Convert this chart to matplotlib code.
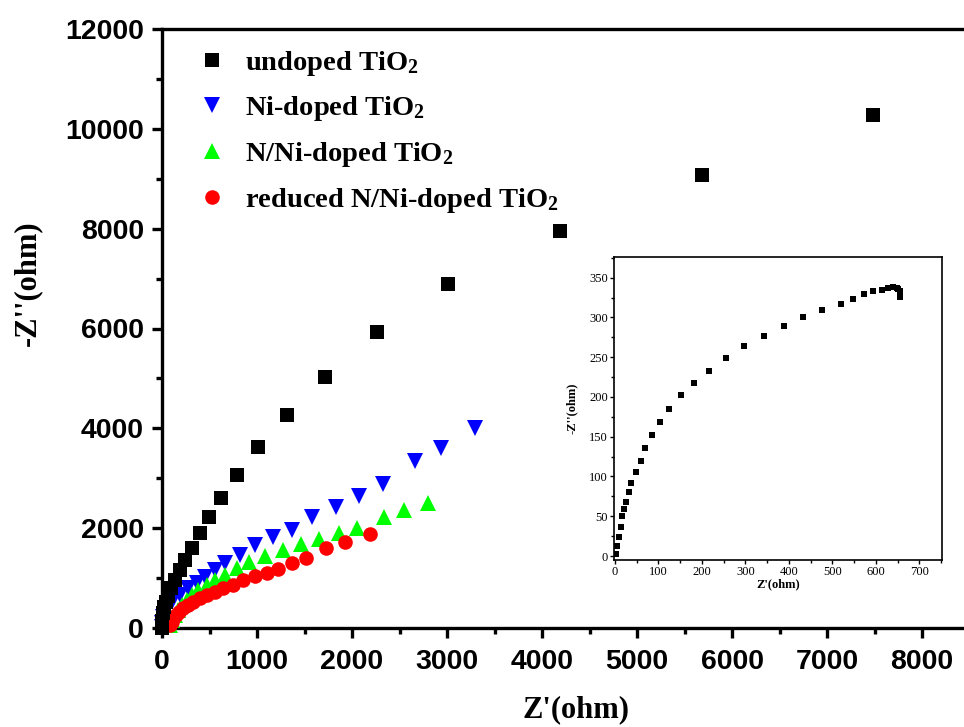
import matplotlib
matplotlib.use("Agg")
import matplotlib.pyplot as plt
from matplotlib.ticker import MultipleLocator

# ---- data ----
undoped_x = [0, 5, 12, 25, 40, 60, 95, 137, 190, 242, 315, 400, 495, 620, 790, 1010, 1316, 1716, 2263, 3010, 4190, 5684, 7484]
undoped_y = [0, 150, 300, 420, 520, 650, 800, 960, 1160, 1360, 1600, 1900, 2220, 2600, 3060, 3620, 4260, 5020, 5920, 6900, 7960, 9080, 10280]

ni_x = [0, 5, 10, 32, 63, 116, 189, 274, 368, 453, 558, 663, 821, 979, 1168, 1368, 1579, 1832, 2074, 2326, 2663, 2937, 3295]
ni_y = [20, 100, 220, 360, 460, 560, 660, 800, 900, 1020, 1160, 1300, 1460, 1660, 1820, 1960, 2220, 2420, 2640, 2880, 3340, 3600, 4000]

nni_x = [84, 105, 137, 168, 211, 263, 316, 379, 474, 558, 663, 789, 916, 1084, 1274, 1463, 1653, 1863, 2053, 2337, 2547, 2800]
nni_y = [60, 160, 260, 360, 460, 560, 660, 760, 860, 960, 1060, 1200, 1320, 1440, 1560, 1680, 1780, 1900, 2000, 2220, 2360, 2500]

red_x = [84, 105, 116, 147, 179, 221, 274, 326, 400, 474, 558, 642, 747, 853, 979, 1105, 1221, 1368, 1516, 1726, 1926, 2190]
red_y = [60, 120, 200, 260, 320, 400, 460, 520, 600, 660, 720, 800, 860, 960, 1040, 1100, 1180, 1300, 1400, 1600, 1720, 1880]

inset_x = [3, 5, 9, 13, 17, 21, 26, 32, 38, 49, 59, 70, 86, 103, 125, 152, 181, 217, 255, 296, 342, 388, 433, 477, 519, 548, 573, 594, 613, 628, 640, 648, 652, 655, 656, 656]
inset_y = [3, 12, 24, 37, 50, 59, 68, 80, 92, 106, 120, 136, 152, 168, 185, 202, 217, 233, 249, 264, 277, 289, 300, 309, 317, 323, 329, 333, 335, 337, 338, 337, 336, 333, 330, 326]

labels = ["undoped TiO$_\\mathregular{2}$", "Ni-doped TiO$_\\mathregular{2}$",
          "N/Ni-doped TiO$_\\mathregular{2}$", "reduced N/Ni-doped TiO$_\\mathregular{2}$"]

plt.rcParams['mathtext.default'] = 'regular'
plt.rcParams['mathtext.fontset'] = 'custom'
plt.rcParams['mathtext.rm'] = 'Liberation Serif:bold'

fig = plt.figure(figsize=(9.64, 7.27), dpi=100)
ax = fig.add_axes([162/964, 99/727, 807.5/964, 599/727])

ax.plot(undoped_x, undoped_y, 's', color='black', ms=10, mew=0, label=labels[0], clip_on=False, zorder=4)
ax.plot(ni_x, ni_y, 'v', color='#0000ff', ms=12, mew=0, label=labels[1], clip_on=False, zorder=3)
ax.plot(nni_x, nni_y, '^', color='#00ff00', ms=12, mew=0, label=labels[2], clip_on=False, zorder=3)
ax.plot(red_x, red_y, 'o', color='#ff0000', ms=10.5, mew=0, label=labels[3], clip_on=False, zorder=3)

ax.set_xlim(0, 8500)
ax.set_ylim(0, 12000)
ax.xaxis.set_major_locator(MultipleLocator(1000))
ax.xaxis.set_minor_locator(MultipleLocator(500))
ax.yaxis.set_major_locator(MultipleLocator(2000))
ax.yaxis.set_minor_locator(MultipleLocator(1000))
for s in ax.spines.values():
    s.set_linewidth(2.4)
ax.tick_params(which='major', direction='out', length=7, width=2.4, pad=6)
ax.tick_params(axis='x', which='major', pad=8)
ax.tick_params(which='minor', direction='out', length=4, width=2.4)
for lab in ax.get_xticklabels() + ax.get_yticklabels():
    lab.set_family('Liberation Sans')
    lab.set_fontweight('bold')
    lab.set_fontsize(20.5)

ax.set_xlabel("Z'(ohm)", family='Liberation Serif', fontweight='bold', fontsize=22)
ax.set_ylabel("-Z''(ohm)", family='Liberation Serif', fontweight='bold', fontsize=22)
ax.xaxis.set_label_coords(0.513, -0.112)
ax.yaxis.set_label_coords(-0.1486, 0.576)

leg = ax.legend(loc='upper left', bbox_to_anchor=(0.0443, 0.967), frameon=False,
                prop={'family': 'Liberation Serif', 'weight': 'bold', 'size': 20.5},
                handletextpad=0.66, labelspacing=0.585, markerscale=1.0, handlelength=1.0,
                borderpad=0, borderaxespad=0)

# ---- inset ----
ins = fig.add_axes([614/964, 167/727, 328/964, 303/727])
ins.plot(inset_x, inset_y, 's', color='black', ms=4.2, mew=0)
ins.set_xlim(-2, 752)
ins.set_ylim(-5, 376)
ins.xaxis.set_major_locator(MultipleLocator(100))
ins.xaxis.set_minor_locator(MultipleLocator(50))
ins.yaxis.set_major_locator(MultipleLocator(50))
ins.yaxis.set_minor_locator(MultipleLocator(25))
for s in ins.spines.values():
    s.set_linewidth(1.2)
ins.tick_params(which='major', direction='out', length=3, width=1, pad=1.5)
ins.tick_params(which='minor', direction='out', length=2, width=1)
for lab in ins.get_xticklabels() + ins.get_yticklabels():
    lab.set_family('Liberation Serif')
    lab.set_fontsize(9)
ins.set_xlabel("Z'(ohm)", family='Liberation Serif', fontweight='bold', fontsize=9, labelpad=0)
ins.set_ylabel("-Z''(ohm)", family='Liberation Serif', fontweight='bold', fontsize=9, labelpad=8)

fig.savefig("out.png", dpi=100)
